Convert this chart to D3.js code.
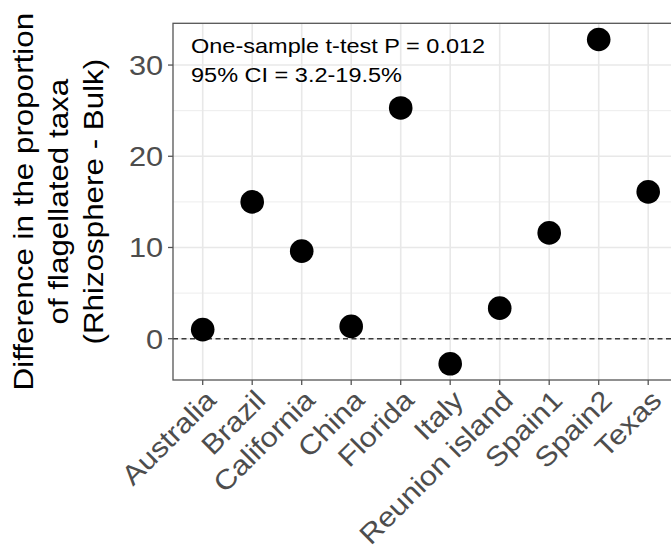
<!DOCTYPE html>
<html>
<head>
<meta charset="utf-8">
<script src="https://cdn.jsdelivr.net/npm/d3@7"></script>
<style>
  body { margin: 0; background: #fff; }
  text { font-family: "Liberation Sans", Arial, sans-serif; }
</style>
</head>
<body>
<div id="chart"></div>
<script>
// sites and the rhizosphere - bulk difference (%)
const sites = ['Australia', 'Brazil', 'California', 'China', 'Florida', 'Italy',
    'Reunion island', 'Spain1', 'Spain2', 'Texas'];
const diffs = [1.0, 15.0, 9.6, 1.35, 25.3, -2.75, 3.35, 11.6, 32.8, 16.1];
const yTicks = [0, 10, 20, 30];
const yMinor = [-5, 5, 15, 25];
const titleLines = ['Difference in the proportion', 'of flagellated taxa', '(Rhizosphere - Bulk)'];
const note = ['One-sample t-test P = 0.012', '95% CI = 3.2-19.5%'];

const W = 671, H = 557;
const stretch = 'scale(1.12,1)';

generate();

function generate() {
    const svg = d3.select('div#chart')
        .append('svg')
        .attr('width', W)
        .attr('height', H);

    const top = 23.3, bottom = 380;

    // discrete x, ggplot style padding 0.6 step each side
    const x = d3.scalePoint().domain(sites).range([202.7, 648.2]);
    const step = x.step();
    const left = x(sites[0]) - 0.6 * step;
    const right = x(sites[sites.length - 1]) + 0.6 * step;

    const lo = d3.min(diffs), hi = d3.max(diffs);
    const pad = (hi - lo) * 0.05;
    const y = d3.scaleLinear().domain([lo - pad, hi + pad]).range([bottom, top]);

    // grid
    svg.selectAll('line.minor')
        .data(yMinor.filter(d => d > y.domain()[0] && d < y.domain()[1]))
        .enter().append('line')
        .attr('x1', left).attr('x2', right)
        .attr('y1', d => y(d)).attr('y2', d => y(d))
        .style('stroke', '#ededed').style('stroke-width', 1);

    svg.selectAll('line.hmajor')
        .data(yTicks)
        .enter().append('line')
        .attr('x1', left).attr('x2', right)
        .attr('y1', d => y(d)).attr('y2', d => y(d))
        .style('stroke', '#e8e8e8').style('stroke-width', 1.6);

    svg.selectAll('line.vmajor')
        .data(sites)
        .enter().append('line')
        .attr('x1', d => x(d)).attr('x2', d => x(d))
        .attr('y1', top).attr('y2', bottom)
        .style('stroke', '#e8e8e8').style('stroke-width', 1.6);

    // zero line
    svg.append('line')
        .attr('x1', left).attr('x2', right)
        .attr('y1', y(0)).attr('y2', y(0))
        .style('stroke', '#3a3a3a').style('stroke-width', 1.6)
        .style('stroke-dasharray', '5,3.5');

    // points
    svg.selectAll('circle')
        .data(diffs)
        .enter().append('circle')
        .attr('cx', (d, i) => x(sites[i]))
        .attr('cy', d => y(d))
        .attr('r', 11.8)
        .style('fill', '#000');

    // panel border
    svg.append('rect')
        .attr('x', left).attr('y', top)
        .attr('width', right - left).attr('height', bottom - top)
        .style('fill', 'none').style('stroke', '#555').style('stroke-width', 1.3);

    // y axis ticks + labels
    svg.selectAll('line.ytick')
        .data(yTicks)
        .enter().append('line')
        .attr('x1', left - 5).attr('x2', left)
        .attr('y1', d => y(d)).attr('y2', d => y(d))
        .style('stroke', '#555').style('stroke-width', 1.3);

    svg.selectAll('text.ylab')
        .data(yTicks)
        .enter().append('text')
        .text(d => d)
        .attr('transform', d => `translate(${left - 9.8},${y(d)}) ${stretch}`)
        .attr('dy', '0.36em')
        .attr('text-anchor', 'end')
        .style('font-size', '27.5px')
        .style('fill', '#4d4d4d');

    // x axis ticks + labels
    svg.selectAll('line.xtick')
        .data(sites)
        .enter().append('line')
        .attr('x1', d => x(d)).attr('x2', d => x(d))
        .attr('y1', bottom).attr('y2', bottom + 5)
        .style('stroke', '#555').style('stroke-width', 1.3);

    svg.selectAll('text.xlab')
        .data(sites)
        .enter().append('text')
        .text(d => d)
        .attr('transform', d => `translate(${x(d) + 1},${bottom + 8}) rotate(-45) ${stretch}`)
        .attr('dy', '0.72em')
        .attr('text-anchor', 'end')
        .style('font-size', '27.5px')
        .style('fill', '#4d4d4d');

    // y title
    const midY = (top + bottom) / 2;
    svg.selectAll('text.ytitle')
        .data(titleLines)
        .enter().append('text')
        .text(d => d)
        .attr('transform', (d, i) => `translate(${33 + i * 35.2},${midY}) rotate(-90) ${stretch}`)
        .attr('text-anchor', 'middle')
        .style('font-size', '28px')
        .style('fill', '#000');

    // annotation
    svg.selectAll('text.note')
        .data(note)
        .enter().append('text')
        .text(d => d)
        .attr('transform', (d, i) => `translate(${left + 18},${53.3 + i * 28.4}) ${stretch}`)
        .style('font-size', '21px')
        .style('fill', '#000');
}
</script>
</body>
</html>
